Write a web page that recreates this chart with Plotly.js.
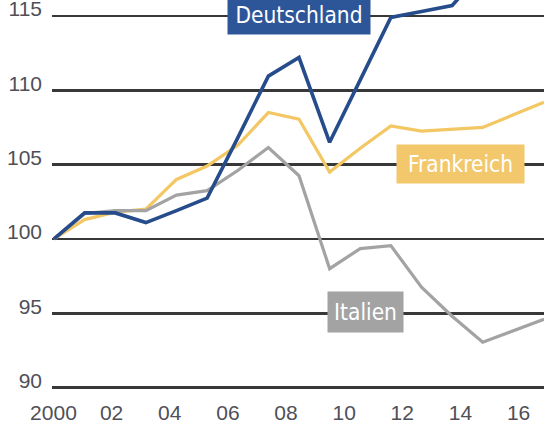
<!DOCTYPE html>
<html>
<head>
<meta charset="utf-8">
<script src="https://cdn.plot.ly/plotly-3.0.1.min.js"></script>
<style>html,body{margin:0;padding:0;background:#fff;}#chart{width:544px;height:427px;}</style>
</head>
<body>
<div id="chart"></div>
<script>
// Data (index, 2000 = 100)
const years = [2000,2001,2002,2003,2004,2005,2006,2007,2008,2009,2010,2011,2012,2013,2014,2015,2016];
const deutschland = [100,101.75,101.75,101.1,101.9,102.75,106.8,110.95,112.2,106.5,110.7,114.9,115.3,115.7,118.0,119.5,121.0];
const frankreich  = [100,101.3,101.8,102.0,104.0,104.9,106.3,108.5,108.05,104.5,106.1,107.6,107.25,107.4,107.5,108.35,109.2];
const italien     = [100,101.7,101.9,101.9,102.95,103.25,104.6,106.15,104.25,98.0,99.35,99.55,96.75,94.8,93.05,93.85,94.6];

const tickYears  = [2000,2002,2004,2006,2008,2010,2012,2014,2016];
const tickLabels = ['2000','02','04','06','08','10','12','14','16'];
const yTicks = [90,95,100,105,110,115];

const seriesNames = ['Deutschland','Frankreich','Italien'];

const BLUE = '#264c8c', YELLOW = '#f3c763', GRAY = '#a3a3a3';

const traces = [
  {x: years, y: frankreich, mode:'lines', line:{color:YELLOW, width:3.2}, hoverinfo:'skip'},
  {x: years, y: italien, mode:'lines', line:{color:GRAY, width:3.2}, hoverinfo:'skip'},
  {x: years, y: deutschland, mode:'lines', line:{color:BLUE, width:3.6}, hoverinfo:'skip'},
  {x: tickYears, y: tickYears.map(() => null), xaxis:'x2', yaxis:'y', mode:'markers', marker:{opacity:0}, hoverinfo:'skip', showlegend:false}
];

const tickFont = {family:'Liberation Sans, Arial, sans-serif', size:21, color:'#4f4f57'};
const labelFont = {family:'DejaVu Sans Condensed, Liberation Sans, sans-serif', size:22.5, color:'#ffffff'};

const layout = {
  width:544, height:427,
  margin:{l:52, r:0, t:0, b:37, pad:0},
  paper_bgcolor:'#ffffff', plot_bgcolor:'#ffffff',
  showlegend:false,
  xaxis:{range:[1999.935, 2016], showgrid:false, zeroline:false, showticklabels:false, ticks:'', showline:false},
  xaxis2:{overlaying:'x', anchor:'y', side:'bottom', range:[1999.95, 2016.875],
          tickmode:'array', tickvals:tickYears, ticktext:tickLabels,
          showgrid:false, zeroline:false, ticks:'', showline:false,
          tickfont:tickFont, ticklabelstandoff:8},
  yaxis:{range:[89.84, 116.07], tickmode:'array', tickvals:yTicks, ticktext:yTicks.map(String),
         showgrid:true, gridcolor:'#383838', gridwidth:2.5, zeroline:false, ticks:'', showline:false,
         tickfont:tickFont, ticklabelstandoff:9, ticklabelshift:-7, ticklabeloverflow:'allow'},
  annotations:[
    {x:2008.0, y:115.06, xref:'x', yref:'y', text:seriesNames[0], showarrow:false,
     font:labelFont, bgcolor:'#2d5699', width:142, height:38, borderpad:0, xanchor:'center', yanchor:'middle'},
    {x:2013.26, y:105.05, xref:'x', yref:'y', text:seriesNames[1], showarrow:false,
     font:labelFont, bgcolor:'#f3c86c', width:127, height:38, borderpad:0, xanchor:'center', yanchor:'middle'},
    {x:2010.18, y:95.07, xref:'x', yref:'y', text:seriesNames[2], showarrow:false,
     font:labelFont, bgcolor:'#a3a3a3', width:75, height:40, borderpad:0, xanchor:'center', yanchor:'middle'}
  ]
};

Plotly.newPlot('chart', traces, layout, {staticPlot:true, displayModeBar:false});
</script>
</body>
</html>
